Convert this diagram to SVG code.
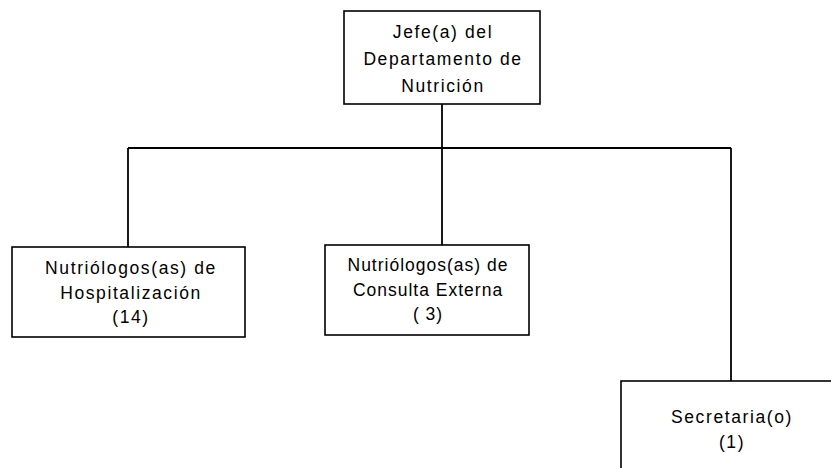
<svg xmlns="http://www.w3.org/2000/svg" width="831" height="468" viewBox="0 0 831 468">
<style>
.box{fill:#fff;stroke:#000;stroke-width:1.6}
.t{font-family:"Liberation Sans",Arial,sans-serif;font-size:17.5px;letter-spacing:1.6px;text-anchor:middle;fill:#000}
.n{letter-spacing:1px}
.c{stroke:#000;stroke-width:1.8;fill:none}
</style>
<rect width="831" height="468" fill="#fff"/>
<g id="connectors">
<line class="c" x1="442" y1="104" x2="442" y2="245"/>
<line class="c" x1="128" y1="148" x2="731" y2="148"/>
<line class="c" x1="128" y1="148" x2="128" y2="247"/>
<line class="c" x1="731" y1="148" x2="731" y2="381"/>
</g>
<g id="jefe">
<rect class="box" x="344" y="11" width="196" height="93"/>
<text class="t" x="443" y="38">Jefe(a) del</text>
<text class="t" x="443" y="65">Departamento de</text>
<text class="t" x="443" y="92">Nutrición</text>
</g>
<g id="hospitalizacion">
<rect class="box" x="12" y="247" width="233" height="90"/>
<text class="t" x="131" y="274">Nutriólogos(as) de</text>
<text class="t" x="131" y="299">Hospitalización</text>
<text class="t" x="131" y="323">(14)</text>
</g>
<g id="consulta">
<rect class="box" x="325" y="245" width="204" height="90"/>
<text class="t n" x="428" y="271">Nutriólogos(as) de</text>
<text class="t n" x="428" y="296">Consulta Externa</text>
<text class="t n" x="428" y="320">( 3)</text>
</g>
<g id="secretaria">
<rect class="box" x="621" y="381" width="230" height="100"/>
<text class="t" x="732" y="423">Secretaria(o)</text>
<text class="t" x="732" y="448">(1)</text>
</g>
</svg>
